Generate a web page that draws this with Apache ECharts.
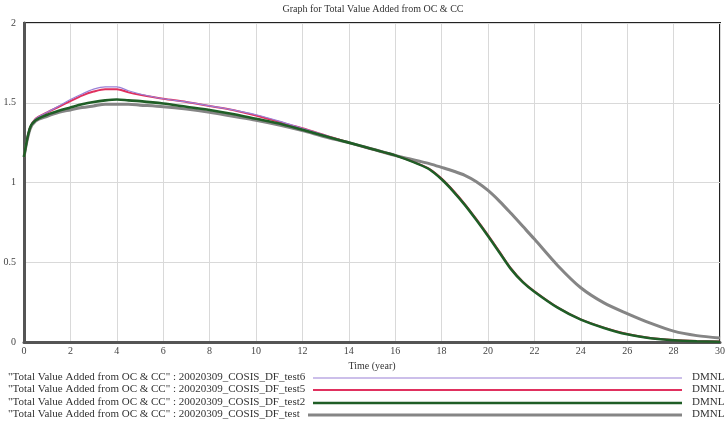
<!DOCTYPE html>
<html><head><meta charset="utf-8">
<script src="https://cdn.jsdelivr.net/npm/echarts@6/dist/echarts.min.js"></script>
<style>html,body{margin:0;padding:0;background:#fff}#c{width:728px;height:427px}</style>
</head><body><div id="c"></div>
<script>
const title = 'Graph for Total Value Added from OC & CC';
const xName = 'Time (year)';
const time = [0,0.25,0.5,1,1.5,2,2.5,3,3.5,4,4.5,5,6,7,8,9,10,11,12,13,14,15,16,17,17.5,18,18.5,19,19.5,20,20.5,21,21.5,22,23,24,25,26,27,28,29,30];
const test6 = [1.16,1.34,1.40,1.44,1.48,1.52,1.555,1.585,1.60,1.60,1.575,1.555,1.525,1.505,1.48,1.455,1.425,1.385,1.34,1.295,1.25,1.21,1.17,1.115,1.08,1.02,0.945,0.86,0.765,0.665,0.56,0.455,0.375,0.315,0.215,0.14,0.088,0.048,0.024,0.011,0.005,0.002];
const test5 = [1.16,1.34,1.40,1.44,1.475,1.51,1.545,1.57,1.585,1.585,1.565,1.55,1.525,1.505,1.48,1.455,1.42,1.38,1.34,1.295,1.25,1.21,1.17,1.117,1.083,1.025,0.95,0.865,0.77,0.67,0.565,0.46,0.378,0.318,0.217,0.142,0.09,0.05,0.025,0.012,0.006,0.003];
const test2 = [1.16,1.34,1.39,1.425,1.45,1.47,1.49,1.505,1.515,1.52,1.515,1.51,1.495,1.475,1.455,1.43,1.40,1.37,1.33,1.29,1.25,1.21,1.17,1.115,1.08,1.02,0.945,0.86,0.765,0.665,0.56,0.455,0.375,0.315,0.215,0.14,0.088,0.048,0.024,0.011,0.005,0.002];
const test  = [1.16,1.33,1.385,1.415,1.44,1.455,1.47,1.48,1.49,1.49,1.49,1.485,1.475,1.46,1.44,1.415,1.39,1.36,1.325,1.285,1.25,1.21,1.17,1.135,1.117,1.095,1.072,1.045,1.005,0.95,0.882,0.805,0.725,0.645,0.48,0.34,0.245,0.178,0.118,0.068,0.04,0.025];
const xTicks = [0,2,4,6,8,10,12,14,16,18,20,22,24,26,28,30];
const yTicks = [0,0.5,1,1.5,2];
const seriesNames = ['"Total Value Added from OC & CC" : 20020309_COSIS_DF_test6','"Total Value Added from OC & CC" : 20020309_COSIS_DF_test5','"Total Value Added from OC & CC" : 20020309_COSIS_DF_test2','"Total Value Added from OC & CC" : 20020309_COSIS_DF_test'];
const units = ['DMNL','DMNL','DMNL','DMNL'];
const seriesData = [test6, test5, test2, test];
const colors = ['#9a80d6','#e0305e','#1f5e26','#858585'];
const widths = [1.2, 2, 2.6, 3];
const drawOrder = [3, 1, 0, 2];

const FONT = '"Liberation Serif","DejaVu Serif",serif';
const chart = echarts.init(document.getElementById('c'));
const series = drawOrder.map(i => ({
  name: seriesNames[i], type: 'line', smooth: 0.3, symbol: 'none', animation: false,
  data: time.map((t, k) => [t, seriesData[i][k]]),
  lineStyle: {color: colors[i], width: widths[i]}, itemStyle: {color: colors[i]}
}));
const legendY = [378, 390, 403, 415];
const lineStart = [313, 313, 313, 308];
const graphic = [{type:'text', x:373, y:4, style:{text:title, font:'10px ' + FONT, fill:'#333', align:'center'}}];
seriesNames.forEach((n, i) => {
  graphic.push({type:'text', x:8, y:legendY[i]-6, style:{text:n, font:'11px ' + FONT, fill:'#333'}});
  graphic.push({type:'line', shape:{x1:lineStart[i], y1:legendY[i], x2:682, y2:legendY[i]}, style:{stroke:colors[i], lineWidth:widths[i]}});
  graphic.push({type:'text', x:692, y:legendY[i]-6, style:{text:units[i], font:'11px ' + FONT, fill:'#333'}});
});
chart.setOption({
  animation: false,
  grid: {left: 24, right: 6, top: 23, bottom: 85, show: true, borderColor: '#222', borderWidth: 2},
  xAxis: {type:'value', min: xTicks[0], max: xTicks[xTicks.length-1], interval: 2,
    name: xName, nameLocation: 'middle', nameGap: 10,
    nameTextStyle: {fontFamily: FONT, fontSize: 10, color:'#333'},
    axisLine: {lineStyle: {color:'#555', width: 3}}, axisTick: {show:false},
    axisLabel: {fontFamily: FONT, fontSize: 10, color:'#444', margin: 4},
    splitLine: {show:true, lineStyle:{color:'#d9d9d9', width:1}}},
  yAxis: {type:'value', min: yTicks[0], max: yTicks[yTicks.length-1], interval: 0.5,
    axisLine: {show:true, lineStyle: {color:'#555', width: 3}}, axisTick: {show:false},
    axisLabel: {fontFamily: FONT, fontSize: 10, color:'#444', margin: 8},
    splitLine: {show:true, lineStyle:{color:'#d9d9d9', width:1}}},
  series: series,
  graphic: graphic
});
</script></body></html>
